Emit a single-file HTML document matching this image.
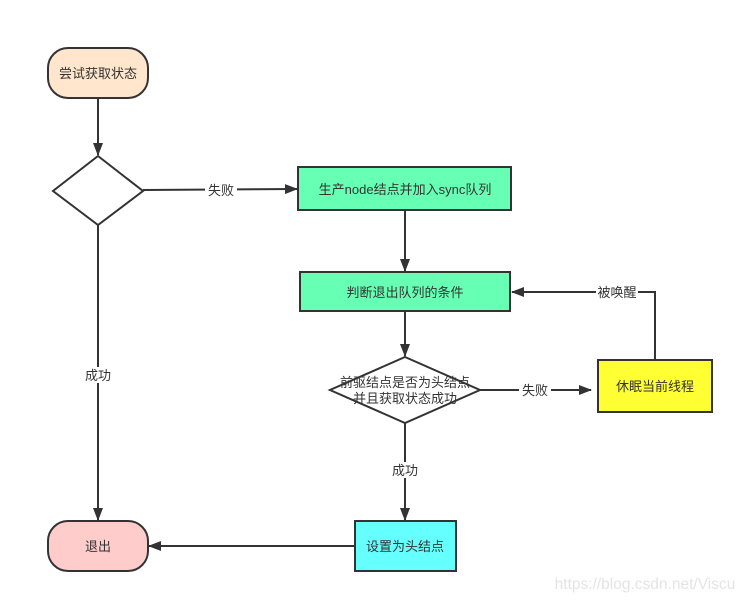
<!DOCTYPE html>
<html><head><meta charset="utf-8"><style>
html,body{margin:0;padding:0;background:#fff;}
svg text{font-family:"Liberation Sans","Noto Sans CJK SC",sans-serif;font-size:13px;fill:#333;}
</style></head><body>
<svg width="744" height="603" viewBox="0 0 744 603" xmlns="http://www.w3.org/2000/svg">
<defs><marker id="a" markerWidth="13" markerHeight="10" refX="12" refY="5" orient="auto" markerUnits="userSpaceOnUse"><path d="M0,0 L13,5 L0,10 Z" fill="#333"/></marker></defs>
<g stroke="#333" stroke-width="2" fill="none">
<rect x="48" y="48" width="100" height="50" rx="20" fill="#ffe6cc"/>
<polygon points="98,156 143,191 98,225 53,191" fill="#fff"/>
<rect x="298" y="167" width="213" height="43" fill="#66ffb3"/>
<rect x="300" y="272" width="210" height="39" fill="#66ffb3"/>
<polygon points="405,357 480,390 405,423 330,390" fill="#fff"/>
<rect x="598" y="360" width="114" height="52" fill="#ffff33"/>
<rect x="355" y="521" width="101" height="50" fill="#66ffff"/>
<rect x="48" y="521" width="100" height="50" rx="20" fill="#ffcccc"/>
<line x1="98" y1="98" x2="98" y2="155" marker-end="url(#a)"/>
<line x1="143" y1="190" x2="297" y2="189" marker-end="url(#a)"/>
<line x1="405" y1="210" x2="405" y2="271" marker-end="url(#a)"/>
<line x1="405" y1="311" x2="405" y2="356" marker-end="url(#a)"/>
<line x1="480" y1="390" x2="591" y2="390" marker-end="url(#a)"/>
<polyline points="655,360 655,292 512,292" marker-end="url(#a)"/>
<line x1="405" y1="423" x2="405" y2="520" marker-end="url(#a)"/>
<line x1="355" y1="546" x2="149" y2="546" marker-end="url(#a)"/>
<line x1="98" y1="225" x2="98" y2="520" marker-end="url(#a)"/>
</g>
<g fill="#fff">
<rect x="205" y="182" width="32" height="16"/>
<rect x="519" y="382" width="32" height="16"/>
<rect x="596" y="284" width="42" height="16"/>
<rect x="390" y="462" width="30" height="16"/>
<rect x="83" y="367" width="30" height="16"/>
</g>
<g text-anchor="middle">
<text x="98" y="78">尝试获取状态</text>
<text x="405" y="194">生产node结点并加入sync队列</text>
<text x="405" y="297">判断退出队列的条件</text>
<text x="405" y="387">前驱结点是否为头结点</text>
<text x="405" y="403">并且获取状态成功</text>
<text x="655" y="391">休眠当前线程</text>
<text x="405" y="551">设置为头结点</text>
<text x="98" y="551">退出</text>
<text x="221" y="195">失败</text>
<text x="535" y="395">失败</text>
<text x="617" y="297">被唤醒</text>
<text x="405" y="475">成功</text>
<text x="98" y="380">成功</text>
<text x="645" y="589" style="fill:#e4e4e4;font-size:15.5px">https://blog.csdn.net/Viscu</text>
</g>
</svg>
</body></html>
